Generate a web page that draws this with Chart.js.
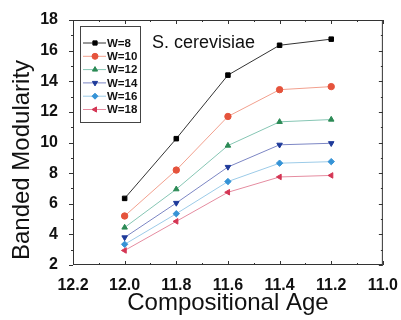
<!DOCTYPE html>
<html>
<head>
<meta charset="utf-8">
<script src="https://cdn.jsdelivr.net/npm/chart.js@4"></script>
<style>
  html, body { margin: 0; padding: 0; background: #fff; }
  #wrap { width: 401px; height: 320px; }
</style>
</head>
<body>
<div id="wrap"><canvas id="modChart"></canvas></div>
<script>
// compositional age on x (axis runs from 12.2 down to 11.0)
const ages = [12.0, 11.8, 11.6, 11.4, 11.2];
const xTicks = [12.2, 12.0, 11.8, 11.6, 11.4, 11.2, 11.0];
const yTicks = [2, 4, 6, 8, 10, 12, 14, 16, 18];

// banded modularity for each window size
const w8  = [6.35, 10.25, 14.4, 16.35, 16.75];
const w10 = [5.2, 8.2, 11.7, 13.45, 13.65];
const w12 = [4.45, 6.95, 9.8, 11.35, 11.5];
const w14 = [3.8, 6.05, 8.4, 9.85, 9.95];
const w16 = [3.35, 5.35, 7.45, 8.65, 8.75];
const w18 = [2.95, 4.85, 6.75, 7.75, 7.85];

const seriesNames = ['W=8', 'W=10', 'W=12', 'W=14', 'W=16', 'W=18'];

const FONT = '"Liberation Sans", Arial, sans-serif';
const ctx = document.getElementById('modChart').getContext('2d');

function series(label, values, line, mark, style, rot) {
  return {
    label: label,
    data: ages.map((a, i) => ({ x: a, y: values[i] })),
    borderColor: line,
    borderWidth: 1,
    pointBackgroundColor: mark,
    pointBorderColor: mark,
    pointStyle: style,
    pointRotation: rot || 0,
    pointRadius: 3.2,
    tension: 0,
    fill: false
  };
}

// frame with tick marks on all four sides, plus axis titles
const framePlugin = {
  id: 'frame',
  afterDraw(chart) {
    const c = chart.ctx;
    const a = chart.chartArea;
    const xs = chart.scales.x, ys = chart.scales.y;
    c.save();
    c.strokeStyle = '#333';
    c.lineWidth = 1;
    c.strokeRect(a.left + 0.5, a.top + 0.5, a.right - a.left - 1, a.bottom - a.top - 1);
    c.beginPath();
    xTicks.forEach((v, i) => {
      const px = Math.round(xs.getPixelForValue(v)) + 0.5;
      c.moveTo(px, a.bottom); c.lineTo(px, a.bottom - 4);
      c.moveTo(px, a.top); c.lineTo(px, a.top + 4);
      if (i < xTicks.length - 1) {
        const mx = Math.round(xs.getPixelForValue(v - 0.1)) + 0.5;
        c.moveTo(mx, a.bottom); c.lineTo(mx, a.bottom - 2);
        c.moveTo(mx, a.top); c.lineTo(mx, a.top + 2);
      }
    });
    yTicks.forEach((v, i) => {
      const py = Math.round(ys.getPixelForValue(v)) + 0.5;
      c.moveTo(a.left, py); c.lineTo(a.left - 4, py);
      c.moveTo(a.right, py); c.lineTo(a.right - 4, py);
      if (i < yTicks.length - 1) {
        const my = Math.round(ys.getPixelForValue(v + 1)) + 0.5;
        c.moveTo(a.left, my); c.lineTo(a.left - 2, my);
        c.moveTo(a.right, my); c.lineTo(a.right - 2, my);
      }
    });
    c.stroke();

    c.fillStyle = '#111';
    c.textAlign = 'center';

    // x title
    c.font = '24px ' + FONT;
    c.textBaseline = 'alphabetic';
    c.fillText('Compositional Age', (a.left + a.right) / 2, 310);

    // y title, sits a little below the plot centre
    c.save();
    c.translate(22, 160);
    c.rotate(-Math.PI / 2);
    c.textBaseline = 'middle';
    c.font = '24px ' + FONT;
    c.fillText('Banded Modularity', 0, 0);
    c.restore();

    // species name
    c.textAlign = 'left';
    c.font = '18px ' + FONT;
    c.textBaseline = 'middle';
    c.fillText('S. cerevisiae', 152, 43);
    c.restore();
  }
};

// boxed legend in the upper left corner of the plot
const boxLegend = {
  id: 'boxLegend',
  afterDraw(chart) {
    const c = chart.ctx;
    const x0 = 80, y0 = 26, w = 60, h = 96;
    c.save();
    c.strokeStyle = '#444';
    c.lineWidth = 1;
    c.strokeRect(x0 + 0.5, y0 + 0.5, w, h);
    c.font = 'bold 11.5px ' + FONT;
    c.textBaseline = 'middle';
    chart.data.datasets.forEach((ds, i) => {
      const y = 43 + i * 13.3;
      c.strokeStyle = ds.borderColor;
      c.beginPath();
      c.moveTo(83, y); c.lineTo(106, y);
      c.stroke();
      c.fillStyle = ds.pointBackgroundColor;
      c.strokeStyle = ds.pointBorderColor;
      Chart.helpers.drawPoint(c, { pointStyle: ds.pointStyle, rotation: ds.pointRotation, radius: 3, borderWidth: 1 }, 95, y);
      c.fillStyle = '#111';
      c.fillText(seriesNames[i], 107, y + 0.5);
    });
    c.restore();
  }
};

const chart = new Chart(ctx, {
  type: 'line',
  data: {
    datasets: [
      series(seriesNames[0], w8, '#333333', '#000000', 'rect'),
      series(seriesNames[1], w10, '#f2a08e', '#e5533c', 'circle'),
      series(seriesNames[2], w12, '#86c6b4', '#2b8a55', 'triangle'),
      series(seriesNames[3], w14, '#7c86c4', '#1e3a9a', 'triangle', 180),
      series(seriesNames[4], w16, '#9ccbe8', '#3593d6', 'rectRot'),
      series(seriesNames[5], w18, '#e58ca0', '#d43553', 'triangle', -90)
    ]
  },
  options: {
    responsive: true,
    maintainAspectRatio: false,
    animation: false,
    layout: { padding: { top: 20, right: 18, left: 0, bottom: 0 } },
    plugins: { legend: { display: false }, tooltip: { enabled: false } },
    scales: {
      x: {
        type: 'linear',
        reverse: true,
        min: 11.0,
        max: 12.2,
        afterBuildTicks: s => { s.ticks = xTicks.map(v => ({ value: v })); },
        afterFit: s => { s.height = 55; },
        grid: { display: false },
        border: { display: false },
        ticks: {
          color: '#111', padding: 3, maxRotation: 0, autoSkip: false,
          font: { family: FONT, size: 16, weight: 'bold' },
          callback: v => v.toFixed(1)
        }
      },
      y: {
        min: 2,
        max: 18,
        afterBuildTicks: s => { s.ticks = yTicks.map(v => ({ value: v })); },
        afterFit: s => { s.width = 73; },
        grid: { display: false },
        border: { display: false },
        ticks: {
          color: '#111', padding: 7,
          font: { family: FONT, size: 16, weight: 'bold' }
        }
      }
    }
  },
  plugins: [framePlugin, boxLegend]
});
</script>
</body>
</html>
